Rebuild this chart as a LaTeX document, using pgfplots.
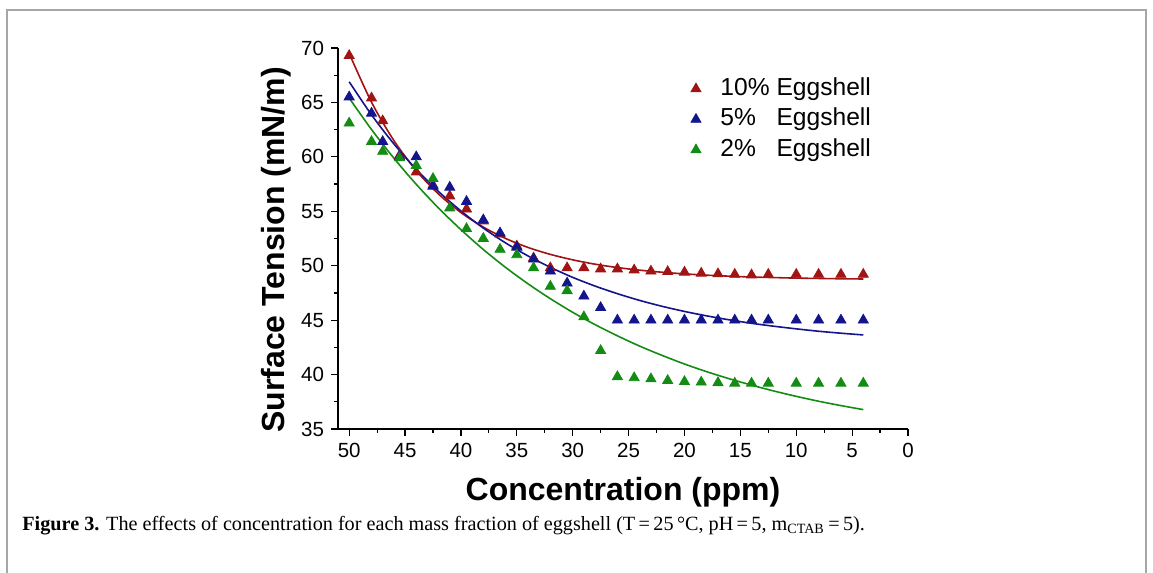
\documentclass[border=0pt]{standalone}
\usepackage{pgfplots}
\pgfplotsset{compat=1.18}
\usepackage{fontspec}
\setmainfont{Liberation Sans}
\newfontfamily\capfont{Liberation Serif}
\definecolor{cred}{RGB}{160,20,20}
\definecolor{cblue}{RGB}{20,20,140}
\definecolor{cgreen}{RGB}{20,140,20}
\begin{document}
\begin{tikzpicture}[x=1pt,y=1pt]
\useasboundingbox (0,0) rectangle (576.5,286.5);
\draw[gray!70, line width=0.6pt] (3.5,-2) -- (3.5,281.5) -- (573,281.5) -- (573,-2);
\begin{axis}[
  at={(169pt,72pt)}, anchor=south west,
  width=285pt, height=190.5pt, scale only axis,
  xmin=0, xmax=51, ymin=35, ymax=70, x dir=reverse,
  axis x line*=bottom, axis y line*=left,
  xtick={0,5,...,50}, ytick={35,40,...,70},
  minor x tick num=1, minor y tick num=1,
  tick align=outside, major tick length=3.5pt, minor tick length=2pt,
  tick style={black, line width=0.6pt},
  axis line style={line width=0.6pt},
  ticklabel style={font=\fontsize{10.25}{12}\selectfont},
  /pgf/number format/assume math mode=true,
  xlabel={Concentration (ppm)}, ylabel={Surface Tension (mN/m)},
  label style={font=\fontsize{16}{19}\selectfont\bfseries},
  xlabel style={at={(axis description cs:0.5,-0.165)}, anchor=center},
  ylabel style={at={(axis description cs:-0.109,0.47)}, anchor=center},
  legend image code/.code={\draw[#1] plot coordinates {(0pt,0pt)}; \path[draw=none,fill=none] (-5pt,0pt) -- (11.25pt,0pt);},
  legend style={at={(axis description cs:0.6098,0.929)}, anchor=north west, draw=none, fill=none,
    font=\fontsize{12.3}{14}\selectfont, row sep=1.75pt, inner sep=0pt,
    nodes={text height=9pt, text depth=2.5pt, inner sep=1pt}},
  legend cell align=left,
]
\addplot[only marks, mark=triangle*, mark size=2.9pt, color=cred] coordinates {
(50,69.3)(48,65.4)(47,63.3)(45.5,60.1)(44,58.6)(42.5,57.4)(41,56.4)(39.5,55.2)(38,54.1)(36.5,52.9)
(35,51.8)(33.5,50.7)(32,49.8)(30.5,49.8)(29,49.8)(27.5,49.7)(26,49.7)(24.5,49.6)(23,49.5)(21.5,49.45)
(20,49.4)(18.5,49.3)(17,49.25)(15.5,49.2)(14,49.15)(12.5,49.2)(10,49.2)(8,49.2)(6,49.2)(4,49.2)};
\addlegendentry{10\% Eggshell}
\addplot[only marks, mark=triangle*, mark size=2.9pt, color=cblue] coordinates {
(50,65.5)(48,64.0)(47,61.4)(45.5,60.0)(44,60.0)(42.5,57.3)(41,57.2)(39.5,55.9)(38,54.2)(36.5,53.0)
(35,51.7)(33.5,50.6)(32,49.5)(30.5,48.4)(29,47.2)(27.5,46.15)(26,45.0)(24.5,45.0)(23,45.0)(21.5,45.0)
(20,45.0)(18.5,45.0)(17,45.0)(15.5,45.0)(14,45.0)(12.5,45.0)(10,45.0)(8,45.0)(6,45.0)(4,45.0)};
\addlegendentry{5\%\phantom{0} Eggshell}
\addplot[only marks, mark=triangle*, mark size=2.9pt, color=cgreen] coordinates {
(50,63.1)(48,61.4)(47,60.5)(45.5,59.9)(44,59.2)(42.5,58.0)(41,55.3)(39.5,53.4)(38,52.5)(36.5,51.5)
(35,51.0)(33.5,49.8)(32,48.1)(30.5,47.7)(29,45.3)(27.5,42.2)(26,39.8)(24.5,39.7)(23,39.6)(21.5,39.45)
(20,39.35)(18.5,39.3)(17,39.25)(15.5,39.2)(14,39.2)(12.5,39.2)(10,39.2)(8,39.2)(6,39.2)(4,39.2)};
\addlegendentry{2\%\phantom{0} Eggshell}
\addplot[smooth, no marks, line width=0.8pt, color=cred, forget plot] coordinates {
(50,69.5)(48,65.02)(46,61.50)(44,58.74)(42,56.58)(40,54.88)(38,53.55)(36,52.50)(34,51.68)(32,51.04)
(30,50.54)(28,50.14)(26,49.83)(24,49.59)(22,49.40)(20,49.25)(18,49.13)(16,49.04)(14,48.96)(12,48.91)
(10,48.86)(8,48.83)(6,48.80)(4,48.78)};
\addplot[smooth, no marks, line width=0.8pt, color=cblue, forget plot] coordinates {
(50,66.9)(48,63.86)(46,61.19)(44,58.86)(42,56.81)(40,55.03)(38,53.46)(36,52.09)(34,50.90)(32,49.85)
(30,48.93)(28,48.13)(26,47.43)(24,46.81)(22,46.27)(20,45.80)(18,45.39)(16,45.03)(14,44.71)(12,44.44)
(10,44.20)(8,43.98)(6,43.80)(4,43.64)};
\addplot[smooth, no marks, line width=0.8pt, color=cgreen, forget plot] coordinates {
(50,65.4)(48,62.51)(46,59.88)(44,57.48)(42,55.29)(40,53.31)(38,51.49)(36,49.84)(34,48.34)(32,46.97)
(30,45.72)(28,44.59)(26,43.56)(24,42.61)(22,41.76)(20,40.97)(18,40.26)(16,39.62)(14,39.03)(12,38.49)
(10,38.00)(8,37.55)(6,37.15)(4,36.78)};
\end{axis}
\node[anchor=base west, inner sep=0pt, font=\capfont\fontsize{10.1}{12}\selectfont] at (11,21)
  {\textbf{Figure 3.} The effects of concentration for each mass fraction of eggshell (T\,=\,25\,°C, pH\,=\,5, m\textsubscript{CTAB}\,=\,5).};
\end{tikzpicture}
\end{document}
